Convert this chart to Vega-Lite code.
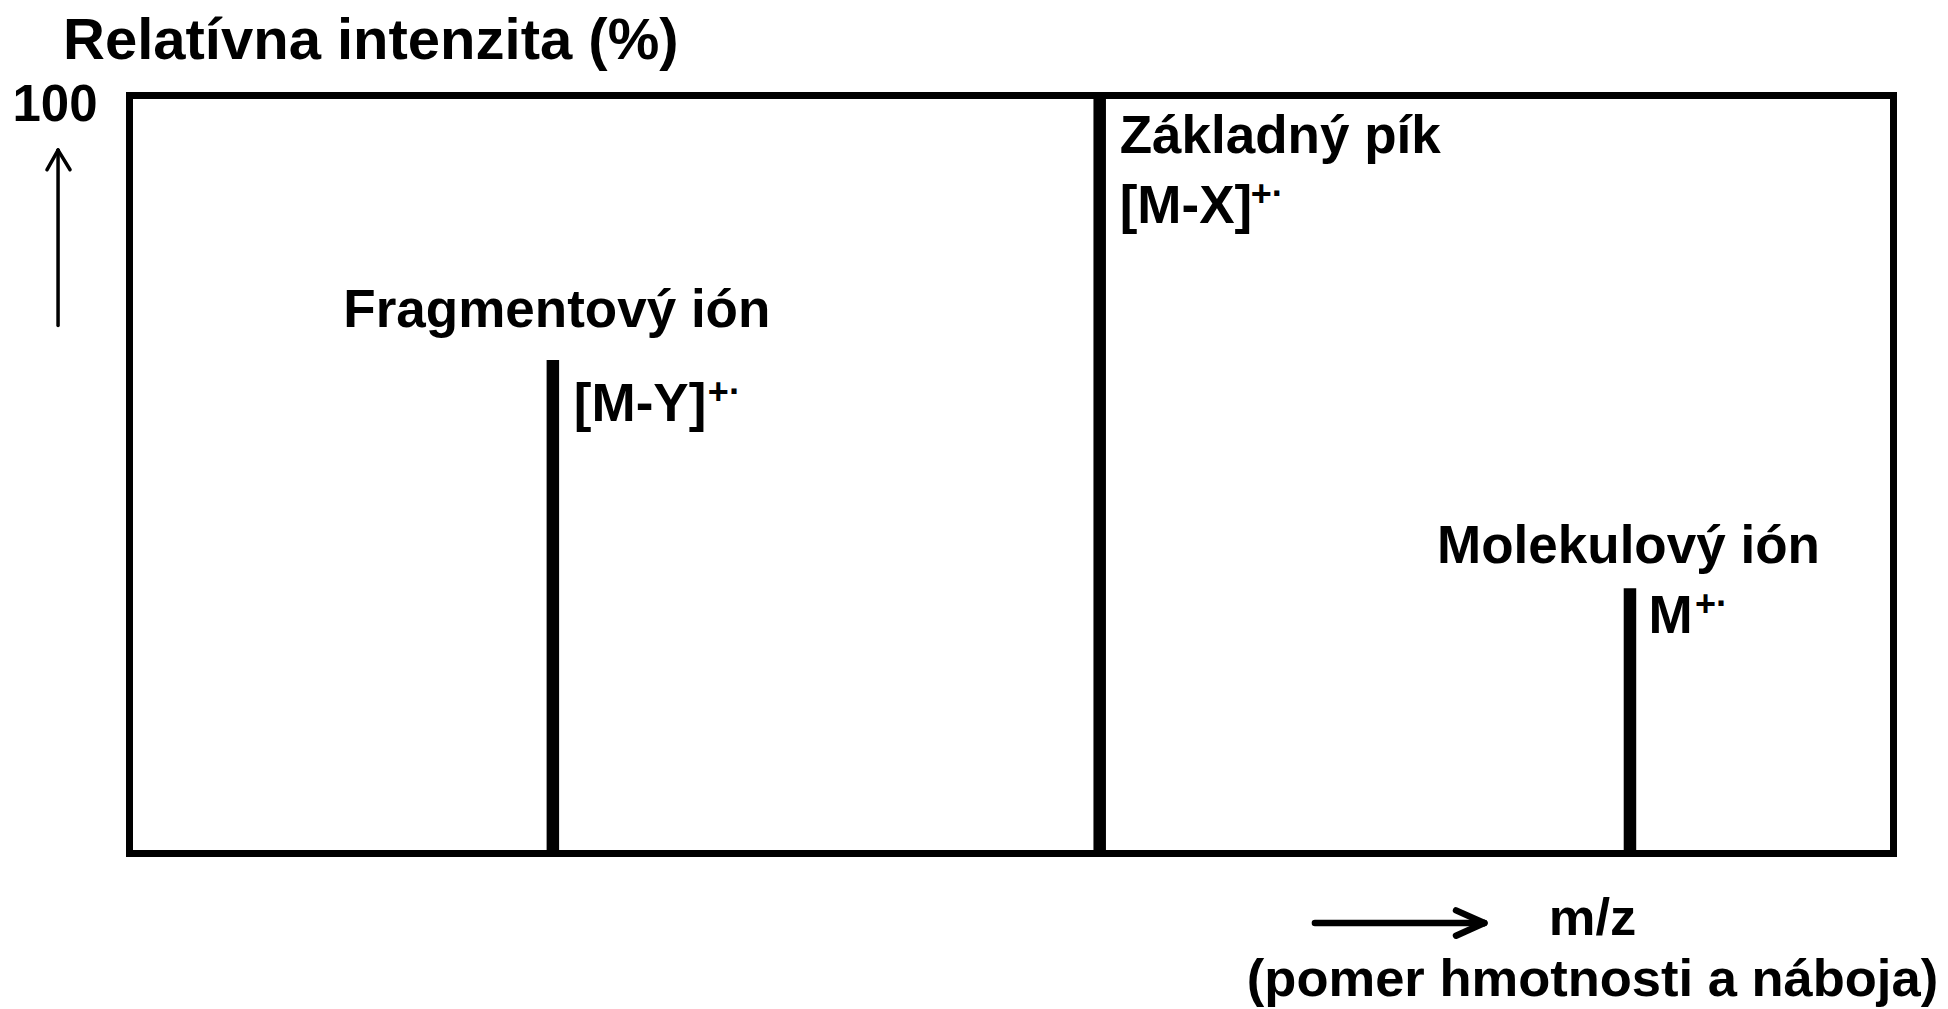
{
  "$schema": "https://vega.github.io/schema/vega-lite/v6.json",
  "width": 1764,
  "height": 758,
  "autosize": {"type": "none"},
  "padding": {"left": 129.5, "top": 95.5, "right": 54.5, "bottom": 155.5},
  "background": "white",
  "config": {
    "view": {"stroke": "black", "strokeWidth": 7},
    "font": "Liberation Sans",
    "text": {"font": "Liberation Sans", "fontWeight": "bold", "fontSize": 53, "color": "black", "baseline": "alphabetic"}
  },
  "datasets": {
    "peaks": [
      {"mz": 24.0, "intensity": 65.1, "name": "Fragmentový ión", "ion": "[M-Y]", "charge": "+·"},
      {"mz": 55.0, "intensity": 100, "name": "Základný pík", "ion": "[M-X]", "charge": "+·"},
      {"mz": 85.06, "intensity": 35.0, "name": "Molekulový ión", "ion": "M", "charge": "+·"}
    ],
    "arrows": [
      {"arrow": "intensity", "part": "shaft", "x": -4.05, "y": 69.66, "x2": -4.05, "y2": 92.8},
      {"arrow": "intensity", "part": "left", "x": -4.68, "y": 90.2, "x2": -4.05, "y2": 92.8},
      {"arrow": "intensity", "part": "right", "x": -3.37, "y": 90.2, "x2": -4.05, "y2": 92.8},
      {"arrow": "mz", "part": "shaft", "x": 67.2, "y": -9.17, "x2": 76.8, "y2": -9.17},
      {"arrow": "mz", "part": "upper", "x": 75.2, "y": -7.5, "x2": 76.8, "y2": -9.17},
      {"arrow": "mz", "part": "lower", "x": 75.2, "y": -10.85, "x2": 76.8, "y2": -9.17}
    ]
  },
  "layer": [
    {
      "data": {"name": "peaks"},
      "mark": {"type": "rule", "strokeWidth": 12.5, "color": "black"},
      "encoding": {
        "x": {
          "field": "mz", "type": "quantitative",
          "scale": {"domain": [0, 100], "nice": false, "zero": false},
          "axis": {
            "domain": false, "ticks": false, "tickSize": 0, "labels": false, "grid": false,
            "title": ["m/z", "(pomer hmotnosti a náboja)"],
            "titleFont": "Liberation Sans", "titleFontWeight": "bold", "titleFontSize": 52.5, "titleColor": "black",
            "titleAlign": "center", "titleBaseline": "alphabetic", "titleX": 1462.5, "titleY": 80.5, "titleLineHeight": 61
          }
        },
        "y": {
          "field": "intensity", "type": "quantitative",
          "scale": {"domain": [0, 100], "nice": false, "zero": false},
          "axis": {
            "domain": false, "ticks": false, "tickSize": 0, "grid": false, "values": [100],
            "labelFont": "Liberation Sans", "labelFontWeight": "bold", "labelFontSize": 51, "labelColor": "black",
            "labelPadding": 32.5, "labelBaseline": "alphabetic", "labelOffset": 25, "labelAlign": "right",
            "title": "Relatívna intenzita (%)", "titleAngle": 0, "titleAlign": "left", "titleBaseline": "alphabetic",
            "titleX": -67, "titleY": -37.5, "titleFont": "Liberation Sans", "titleFontWeight": "bold", "titleFontSize": 58, "titleColor": "black"
          }
        },
        "y2": {"datum": 0}
      }
    },
    {
      "data": {"name": "arrows"},
      "transform": [{"filter": "datum.arrow == 'intensity'"}],
      "mark": {"type": "rule", "strokeWidth": 3.5, "color": "black", "strokeCap": "round", "clip": false},
      "encoding": {
        "x": {"field": "x", "type": "quantitative"},
        "y": {"field": "y", "type": "quantitative"},
        "x2": {"field": "x2"},
        "y2": {"field": "y2"}
      }
    },
    {
      "data": {"name": "arrows"},
      "transform": [{"filter": "datum.arrow == 'mz'"}],
      "mark": {"type": "rule", "strokeWidth": 6.5, "color": "black", "strokeCap": "round", "clip": false},
      "encoding": {
        "x": {"field": "x", "type": "quantitative"},
        "y": {"field": "y", "type": "quantitative"},
        "x2": {"field": "x2"},
        "y2": {"field": "y2"}
      }
    },
    {
      "data": {"name": "peaks"},
      "transform": [{"filter": "datum.ion == '[M-Y]'"}],
      "mark": {"type": "text", "align": "center", "dx": 4, "dy": -33},
      "encoding": {"x": {"field": "mz", "type": "quantitative"}, "y": {"field": "intensity", "type": "quantitative"}, "text": {"field": "name"}}
    },
    {
      "data": {"name": "peaks"},
      "transform": [{"filter": "datum.ion == 'M'"}],
      "mark": {"type": "text", "align": "center", "dx": -1.5, "dy": -25},
      "encoding": {"x": {"field": "mz", "type": "quantitative"}, "y": {"field": "intensity", "type": "quantitative"}, "text": {"field": "name"}}
    },
    {
      "data": {"name": "peaks"},
      "transform": [{"filter": "datum.ion == '[M-X]'"}],
      "mark": {"type": "text", "align": "left", "dx": 20, "dy": 57.5},
      "encoding": {"x": {"field": "mz", "type": "quantitative"}, "y": {"field": "intensity", "type": "quantitative"}, "text": {"field": "name"}}
    },
    {
      "data": {"name": "peaks"},
      "transform": [{"filter": "datum.ion == '[M-Y]'"}],
      "mark": {"type": "text", "align": "left", "dx": 21, "dy": 61},
      "encoding": {"x": {"field": "mz", "type": "quantitative"}, "y": {"field": "intensity", "type": "quantitative"}, "text": {"field": "ion"}}
    },
    {
      "data": {"name": "peaks"},
      "transform": [{"filter": "datum.ion == '[M-X]'"}],
      "mark": {"type": "text", "align": "left", "dx": 20, "dy": 127},
      "encoding": {"x": {"field": "mz", "type": "quantitative"}, "y": {"field": "intensity", "type": "quantitative"}, "text": {"field": "ion"}}
    },
    {
      "data": {"name": "peaks"},
      "transform": [{"filter": "datum.ion == 'M'"}],
      "mark": {"type": "text", "align": "left", "dx": 18.5, "dy": 45},
      "encoding": {"x": {"field": "mz", "type": "quantitative"}, "y": {"field": "intensity", "type": "quantitative"}, "text": {"field": "ion"}}
    },
    {
      "data": {"name": "peaks"},
      "transform": [{"filter": "datum.ion == '[M-Y]'"}],
      "mark": {"type": "text", "align": "left", "fontSize": 36, "dx": 155, "dy": 44},
      "encoding": {"x": {"field": "mz", "type": "quantitative"}, "y": {"field": "intensity", "type": "quantitative"}, "text": {"field": "charge"}}
    },
    {
      "data": {"name": "peaks"},
      "transform": [{"filter": "datum.ion == '[M-X]'"}],
      "mark": {"type": "text", "align": "left", "fontSize": 36, "dx": 151, "dy": 110},
      "encoding": {"x": {"field": "mz", "type": "quantitative"}, "y": {"field": "intensity", "type": "quantitative"}, "text": {"field": "charge"}}
    },
    {
      "data": {"name": "peaks"},
      "transform": [{"filter": "datum.ion == 'M'"}],
      "mark": {"type": "text", "align": "left", "fontSize": 36, "dx": 65, "dy": 28},
      "encoding": {"x": {"field": "mz", "type": "quantitative"}, "y": {"field": "intensity", "type": "quantitative"}, "text": {"field": "charge"}}
    }
  ]
}
